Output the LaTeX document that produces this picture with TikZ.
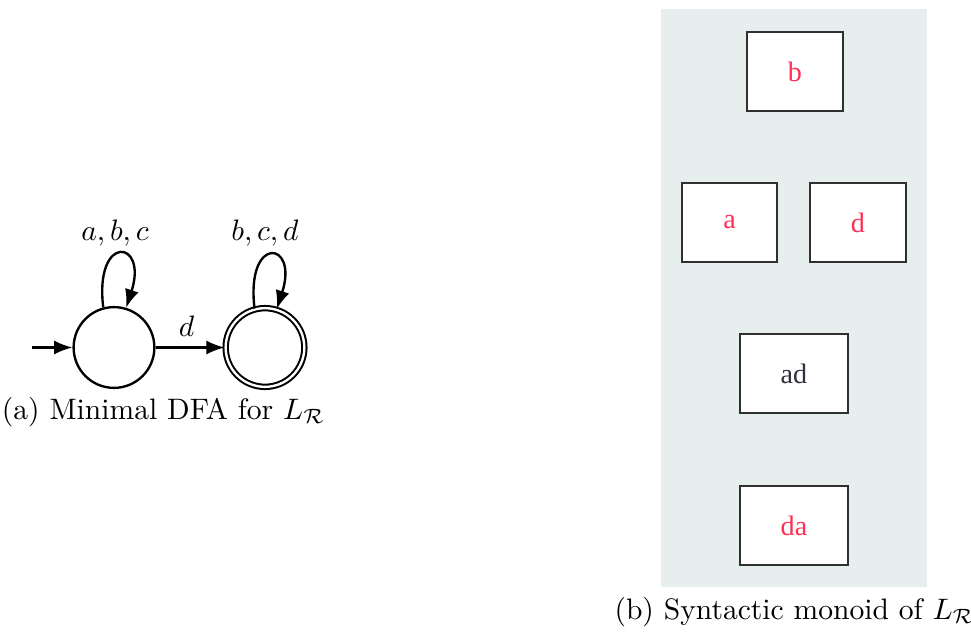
\documentclass[tikz,border=0pt]{standalone}
\usepackage{fontspec}
\newfontfamily\boxfont{Liberation Serif}
\usetikzlibrary{arrows.meta}
\definecolor{panelbg}{HTML}{E6EEEE}
\definecolor{boxred}{HTML}{FF2E55}
\definecolor{boxdark}{HTML}{30303C}
\definecolor{boxline}{HTML}{303030}
\begin{document}
\begin{tikzpicture}[x=0.338pt,y=0.338pt,
  arr/.style={line width=0.8pt,-{Latex[length=6.2pt,width=4.8pt]}},
  st/.style={circle,draw,line width=0.8pt,minimum size=27.3pt,inner sep=0pt},
  acc/.style={circle,draw,double,line width=0.68pt,double distance=0.8pt,minimum size=26.6pt,inner sep=0pt},
  mbox/.style={draw=boxline,fill=white,line width=0.5pt,inner sep=0pt,font=\boxfont\fontsize{9.5}{11}\selectfont},
  lbl/.style={font=\normalsize}]
\useasboundingbox (0,0) rectangle (971,-637);
% left panel: DFA
\node[st] (q0) at (114,-347.5) {};
\node[acc] (q1) at (265,-347.5) {};
\coordinate (init) at (32,-347.5);
\draw[arr] (init) -- (q0);
\draw[arr] (q0) -- node[above,lbl,pos=0.45] {$d$} (q1);
\draw[arr] (q0.105) .. controls +(97:75) and +(72:72) .. (q0.73);
\draw[arr] (q1.105) .. controls +(97:75) and +(72:72) .. (q1.73);
\node[lbl] (l0) at (115,-233) {$a,b,c$};
\node[lbl] (l1) at (265,-233) {$b,c,d$};
\node[lbl] (capa) at (163.5,-412) {(a) Minimal DFA for $L_{\mathcal{R}}$};
% right panel: syntactic monoid
\fill[panelbg] (661,-9) rectangle (927,-587);
\node[mbox,minimum width=32.4pt,minimum height=26.7pt,text=boxred] (b) at (795,-71.5) {b};
\node[mbox,minimum width=32.1pt,minimum height=26.7pt,text=boxred] (a) at (729.5,-222.5) {a};
\node[mbox,minimum width=32.4pt,minimum height=26.7pt,text=boxred] (dd) at (858,-222.5) {d};
\node[mbox,minimum width=36.5pt,minimum height=26.7pt,text=boxdark] (ad) at (794,-373.5) {ad};
\node[mbox,minimum width=36.5pt,minimum height=26.7pt,text=boxred] (da) at (794,-525.5) {da};
\node[lbl] (capb) at (794.5,-612) {(b) Syntactic monoid of $L_{\mathcal{R}}$};
\end{tikzpicture}
\end{document}
